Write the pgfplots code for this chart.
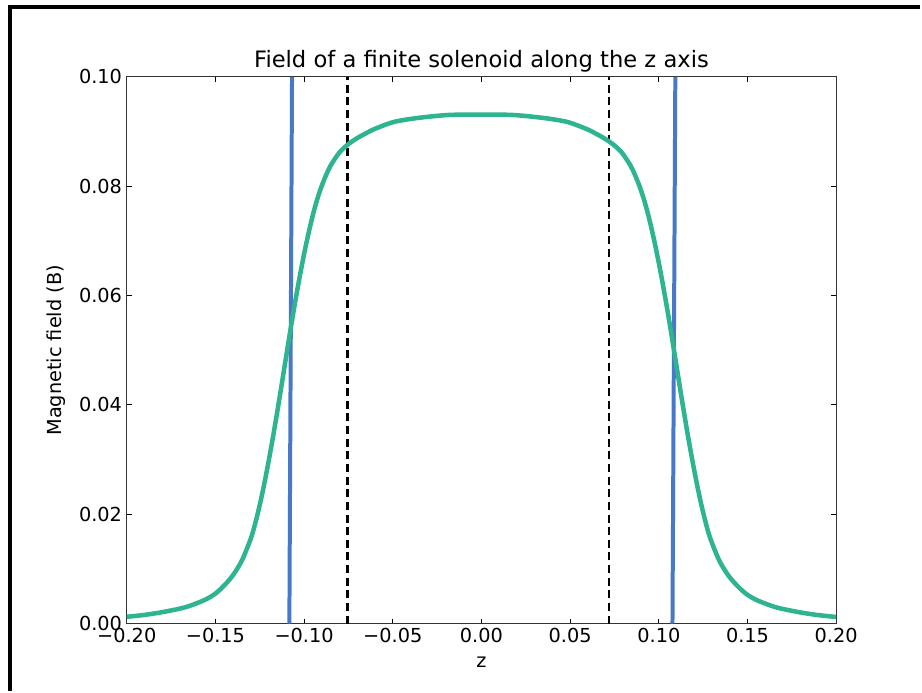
\documentclass[border=0pt]{standalone}
\usepackage{pgfplots}
\pgfplotsset{compat=1.18}
\usepackage{fontspec}
\setmainfont{DejaVu Sans}
\definecolor{fieldgreen}{RGB}{46,180,145}
\definecolor{coilblue}{RGB}{72,120,200}
\begin{document}
\begin{tikzpicture}
\begin{axis}[
name=ax,
at={(0pt,0pt)}, anchor=south west,
scale only axis,
width=533.25pt, height=411pt,
xmin=-0.2, xmax=0.2, ymin=0, ymax=0.1,
xtick={-0.2,-0.15,-0.1,-0.05,0,0.05,0.1,0.15,0.2},
xticklabels={−0.20,−0.15,−0.10,−0.05,0.00,0.05,0.10,0.15,0.20},
ytick={0,0.02,0.04,0.06,0.08,0.1},
yticklabels={0.00,0.02,0.04,0.06,0.08,0.10},
tick align=inside,
major tick length=3.75pt,
every tick/.style={black, line width=0.8pt},
axis line style={black!80, line width=1pt},
tick label style={font=\fontsize{14.5}{17}\selectfont},
label style={font=\fontsize{14.5}{17}\selectfont},
xlabel shift=4pt,
ylabel shift=3pt,
title style={font=\fontsize{17}{20}\selectfont, yshift=-6pt},
title={Field of a finite solenoid along the z axis},
xlabel={z},
ylabel={Magnetic field (B)},
clip=true,
]
% dashed markers
\addplot[black, line width=1.6pt, dash pattern=on 6pt off 3.5pt] coordinates {(-0.0755,0) (-0.0755,0.1)};
\addplot[black, line width=1.6pt, dash pattern=on 6pt off 3.5pt] coordinates {(0.0717,0) (0.0717,0.1)};
% coil ends
\addplot[coilblue, line width=3pt] coordinates {(-0.1083,0) (-0.1068,0.1)};
\addplot[coilblue, line width=3pt] coordinates {(0.1077,0) (0.1093,0.1)};
% field
\addplot[fieldgreen, line width=3.4pt, smooth] coordinates {
(-0.200,0.00125) (-0.190,0.00160) (-0.180,0.00210) (-0.170,0.00275)
(-0.165,0.00320) (-0.160,0.00380) (-0.155,0.00450) (-0.150,0.00550)
(-0.145,0.00700) (-0.140,0.00890)
(-0.135,0.01160) (-0.130,0.01560) (-0.1275,0.01840) (-0.125,0.02170)
(-0.1225,0.02550) (-0.120,0.02970) (-0.1175,0.03420) (-0.115,0.03900)
(-0.1125,0.04400) (-0.110,0.04910) (-0.1075,0.05410) (-0.105,0.05890)
(-0.1025,0.06340) (-0.100,0.06760) (-0.0975,0.07140) (-0.095,0.07480)
(-0.0925,0.07770) (-0.090,0.08010) (-0.0875,0.08210) (-0.085,0.08380)
(-0.080,0.08620) (-0.075,0.08770) (-0.070,0.08880) (-0.065,0.08970)
(-0.060,0.09050) (-0.050,0.09170) (-0.040,0.09230) (-0.030,0.09270)
(-0.020,0.09300) (-0.010,0.09310) (0.000,0.09310)
(0.009,0.09310) (0.019,0.09300) (0.029,0.09270) (0.039,0.09230)
(0.049,0.09170) (0.059,0.09050) (0.064,0.08970) (0.069,0.08880)
(0.074,0.08770) (0.079,0.08620) (0.084,0.08380) (0.0865,0.08210)
(0.089,0.08010) (0.0915,0.07770) (0.094,0.07480) (0.0965,0.07140)
(0.099,0.06760) (0.1015,0.06340) (0.104,0.05890) (0.1065,0.05410)
(0.109,0.04910) (0.1115,0.04400) (0.114,0.03900) (0.1165,0.03420)
(0.119,0.02970) (0.1215,0.02550) (0.124,0.02170) (0.1265,0.01840)
(0.129,0.01560) (0.134,0.01160) (0.139,0.00890) (0.144,0.00700)
(0.149,0.00550) (0.154,0.00450) (0.159,0.00380) (0.164,0.00320)
(0.169,0.00275) (0.179,0.00210)
(0.189,0.00160) (0.200,0.00122)
};
\end{axis}
% screenshot frame (top and left edges)
\draw[black, line width=3pt] (-87.75pt,463.5pt) -- (596.25pt,463.5pt);
\draw[black, line width=3pt] (-87.75pt,465pt) -- (-87.75pt,-50.25pt);
\path[use as bounding box] (-95.25pt,-50.25pt) rectangle (596.25pt,468.75pt);
\end{tikzpicture}
\end{document}
